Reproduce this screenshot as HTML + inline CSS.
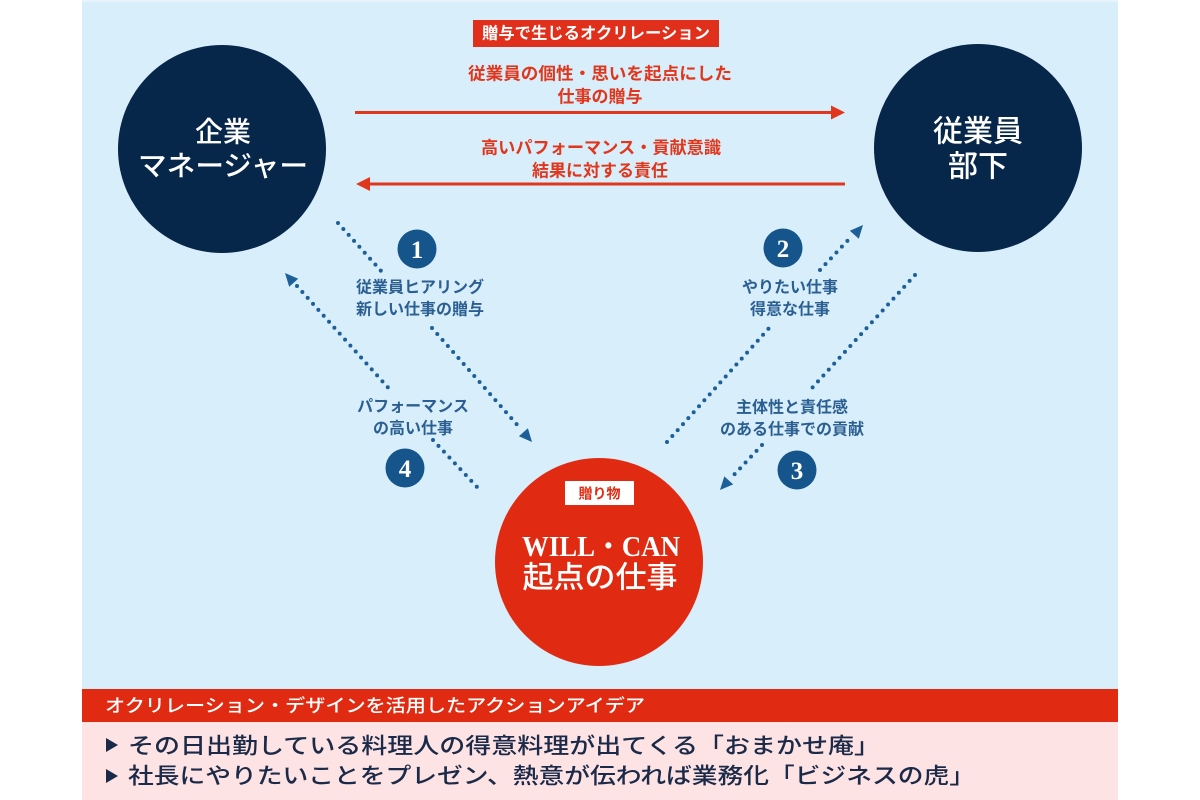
<!DOCTYPE html>
<html><head><meta charset="utf-8">
<style>
html,body{margin:0;padding:0;background:#fff;}
svg{display:block;}
text{font-family:"Liberation Sans","Noto Sans CJK JP",sans-serif;}
.jp{font-family:"Liberation Sans","Noto Sans CJK JP",sans-serif;}
.serif{font-family:"Liberation Serif","Noto Serif CJK SC",serif;}
</style></head>
<body>
<svg width="1200" height="800" viewBox="0 0 1200 800" xmlns="http://www.w3.org/2000/svg">
  <!-- panels -->
  <rect x="0" y="0" width="1200" height="800" fill="#ffffff"/>
  <rect x="82" y="0" width="1036" height="689" fill="#d8eefa"/>
  <rect x="82" y="0" width="1036" height="2" fill="#e6f3fb"/>
  <rect x="82" y="689" width="1036" height="33" fill="#e02b12"/>
  <rect x="82" y="722" width="1036" height="78" fill="#fde3e3"/>

  <!-- title box -->
  <rect x="473" y="20" width="246" height="27" fill="#e0301c"/>
  <text x="596" y="34" text-anchor="middle" dominant-baseline="central" fill="#fff" font-size="16" font-weight="700" textLength="228" lengthAdjust="spacingAndGlyphs">贈与で生じるオクリレーション</text>

  <!-- red labels -->
  <g fill="#e2361c" font-size="17" font-weight="700" text-anchor="middle">
    <text x="600" y="74" dominant-baseline="central" textLength="264" lengthAdjust="spacingAndGlyphs">従業員の個性・思いを起点にした</text>
    <text x="600" y="97" dominant-baseline="central">仕事の贈与</text>
    <text x="601" y="148" dominant-baseline="central" textLength="240" lengthAdjust="spacingAndGlyphs">高いパフォーマンス・貢献意識</text>
    <text x="600" y="171" dominant-baseline="central">結果に対する責任</text>
  </g>

  <!-- red arrows -->
  <line x1="355" y1="112.5" x2="834" y2="112.5" stroke="#e2361c" stroke-width="3"/>
  <polygon points="845,112.5 831,105.5 831,119.5" fill="#e2361c"/>
  <line x1="368" y1="184" x2="845" y2="184" stroke="#e2361c" stroke-width="3"/>
  <polygon points="356,184 370,177 370,191" fill="#e2361c"/>

  <!-- circles -->
  <circle cx="222" cy="149" r="104" fill="#06264a"/>
  <circle cx="978" cy="148" r="104" fill="#06264a"/>
  <circle cx="599" cy="562" r="104" fill="#e02b12"/>

  <g fill="#ffffff" font-size="28" font-weight="500" text-anchor="middle">
    <text x="223" y="132" dominant-baseline="central">企業</text>
    <text x="223" y="166" dominant-baseline="central" textLength="170" lengthAdjust="spacingAndGlyphs">マネージャー</text>
    <text x="978" y="132" dominant-baseline="central" font-size="30">従業員</text>
    <text x="978" y="167" dominant-baseline="central" font-size="30">部下</text>
  </g>

  <!-- gift label -->
  <rect x="565" y="481" width="69" height="24" fill="#ffffff"/>
  <text x="599.5" y="493.5" text-anchor="middle" dominant-baseline="central" fill="#e02b12" font-size="14" font-weight="700">贈り物</text>
  <text class="serif" x="601" y="556" text-anchor="middle" fill="#ffffff" font-size="28" font-weight="700" textLength="158" lengthAdjust="spacingAndGlyphs">WILL・CAN</text>
  <text x="600" y="578" text-anchor="middle" dominant-baseline="central" fill="#ffffff" font-size="30" font-weight="500" textLength="155" lengthAdjust="spacingAndGlyphs">起点の仕事</text>

  <!-- dotted lines -->
  <g stroke="#1d5f98" stroke-width="4" stroke-linecap="round" stroke-dasharray="0 8" fill="none">
    <line x1="338" y1="223" x2="382" y2="272"/>
    <line x1="432" y1="328" x2="520" y2="428"/>
    <line x1="297" y1="286" x2="392" y2="392"/>
    <line x1="433" y1="440" x2="478" y2="488"/>
    <line x1="667" y1="442" x2="770" y2="327"/>
    <line x1="820" y1="270" x2="851" y2="237"/>
    <line x1="915" y1="275" x2="812" y2="388"/>
    <line x1="762" y1="445" x2="731" y2="478"/>
  </g>
  <g fill="#1d5f98">
    <polygon points="532,442 518.9,436.3 527.9,428.3"/>
    <polygon points="285,273 289.2,286.7 298.2,278.7"/>
    <polygon points="863,225 858.8,238.7 849.8,230.7"/>
    <polygon points="720,490 733.2,484.4 724.3,476.4"/>
  </g>

  <!-- number circles -->
  <g fill="#15558c">
    <circle cx="417" cy="249" r="19.5"/>
    <circle cx="783" cy="248" r="19.5"/>
    <circle cx="797" cy="470" r="19.5"/>
    <circle cx="405" cy="468" r="19.5"/>
  </g>
  <g class="serif" fill="#ffffff" font-size="25" font-weight="700" text-anchor="middle">
    <text class="serif" x="417" y="258">1</text>
    <text class="serif" x="783" y="257">2</text>
    <text class="serif" x="797" y="479">3</text>
    <text class="serif" x="405" y="477">4</text>
  </g>

  <!-- blue labels -->
  <g fill="#2b5f92" font-size="16" font-weight="700" text-anchor="middle">
    <text x="420" y="288" dominant-baseline="central">従業員ヒアリング</text>
    <text x="420" y="310" dominant-baseline="central">新しい仕事の贈与</text>
    <text x="413" y="407" dominant-baseline="central">パフォーマンス</text>
    <text x="413" y="429" dominant-baseline="central">の高い仕事</text>
    <text x="790" y="288" dominant-baseline="central">やりたい仕事</text>
    <text x="790" y="310" dominant-baseline="central">得意な仕事</text>
    <text x="792" y="408" dominant-baseline="central">主体性と責任感</text>
    <text x="792" y="430" dominant-baseline="central">のある仕事での貢献</text>
  </g>

  <!-- bottom section -->
  <text x="105" y="706" dominant-baseline="central" fill="#ffffff" font-size="18" font-weight="500" textLength="540" lengthAdjust="spacingAndGlyphs">オクリレーション・デザインを活用したアクションアイデア</text>
  <g fill="#1a2a48">
    <polygon points="106,738 106,752 118,745"/>
    <polygon points="106,769 106,783 118,776"/>
  </g>
  <g fill="#1a2a48" font-size="22" font-weight="500">
    <text x="128" y="746" dominant-baseline="central" textLength="752" lengthAdjust="spacingAndGlyphs">その日出勤している料理人の得意料理が出てくる「おまかせ庵」</text>
    <text x="128" y="776" dominant-baseline="central" textLength="847" lengthAdjust="spacingAndGlyphs">社長にやりたいことをプレゼン、熱意が伝われば業務化「ビジネスの虎」</text>
  </g>
</svg>
</body></html>
